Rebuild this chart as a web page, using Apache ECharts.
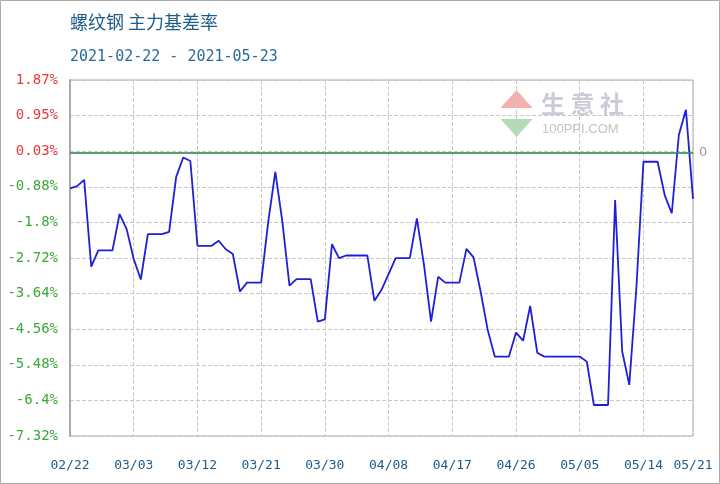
<!DOCTYPE html>
<html>
<head>
<meta charset="utf-8">
<script src="https://cdn.jsdelivr.net/npm/echarts@6/dist/echarts.min.js"></script>
<style>html,body{margin:0;padding:0;background:#fff;}#c{width:720px;height:484px;}</style>
</head>
<body>
<div id="c"></div>
<script>
var titleText = '螺纹钢 主力基差率';
var subTitleText = '2021-02-22 - 2021-05-23';
var dates = ['02/22','02/23','02/24','02/25','02/26','02/27','02/28','03/01','03/02','03/03',
'03/04','03/05','03/06','03/07','03/08','03/09','03/10','03/11','03/12','03/13',
'03/14','03/15','03/16','03/17','03/18','03/19','03/20','03/21','03/22','03/23',
'03/24','03/25','03/26','03/27','03/28','03/29','03/30','03/31','04/01','04/02',
'04/03','04/04','04/05','04/06','04/07','04/08','04/09','04/10','04/11','04/12',
'04/13','04/14','04/15','04/16','04/17','04/18','04/19','04/20','04/21','04/22',
'04/23','04/24','04/25','04/26','04/27','04/28','04/29','04/30','05/01','05/02',
'05/03','05/04','05/05','05/06','05/07','05/08','05/09','05/10','05/11','05/12',
'05/13','05/14','05/15','05/16','05/17','05/18','05/19','05/20','05/21'];
var basisRate = [-0.93,-0.87,-0.71,-2.95,-2.53,-2.53,-2.53,-1.59,-1.98,-2.75,
-3.28,-2.11,-2.11,-2.11,-2.05,-0.63,-0.13,-0.22,-2.41,-2.41,
-2.41,-2.28,-2.50,-2.62,-3.59,-3.36,-3.36,-3.36,-1.79,-0.50,
-1.79,-3.44,-3.27,-3.27,-3.27,-4.37,-4.31,-2.37,-2.73,-2.66,
-2.66,-2.66,-2.66,-3.83,-3.55,-3.14,-2.73,-2.73,-2.73,-1.70,
-2.90,-4.37,-3.21,-3.36,-3.36,-3.36,-2.49,-2.71,-3.59,-4.58,
-5.27,-5.27,-5.27,-4.65,-4.86,-3.96,-5.17,-5.27,-5.27,-5.27,
-5.27,-5.27,-5.27,-5.40,-6.52,-6.52,-6.52,-1.23,-5.14,-6.00,
-3.50,-0.24,-0.24,-0.24,-1.10,-1.57,0.45,1.10,-1.20];
var yTickLabels = ['-7.32%','-6.4%','-5.48%','-4.56%','-3.64%','-2.72%','-1.8%','-0.88%','0.03%','0.95%','1.87%'];
var yMin = -7.32, yMax = 1.87, yStep = 0.919;
var zeroLine = 0;

function showDateLabel(i){ return i % 9 === 0 || i === dates.length - 1; }

var chart = echarts.init(document.getElementById('c'), null, {renderer:'canvas'});
chart.setOption({
  animation: false,
  backgroundColor: '#fff',
  title: [
    {left: 70, top: 13, padding: 0, text: titleText, textStyle:{fontFamily:'Noto Sans CJK SC', fontSize:18, fontWeight:'normal', color:'#1d5b8a'}},
    {left: 70, top: 50, padding: 0, text: subTitleText, textStyle:{fontFamily:'DejaVu Sans Mono', fontSize:15, fontWeight:'normal', color:'#2a6a98'}}
  ],
  grid: {left: 70, right: 27, top: 80, bottom: 48, show: true, borderColor: '#aaa', borderWidth: 1},
  xAxis: {
    type: 'category', data: dates, boundaryGap: false,
    axisLine: {show: true, lineStyle: {color: '#aaa', width: 2}},
    axisTick: {show: false},
    axisLabel: {interval: function(i){return showDateLabel(i);}, margin: 23, color: '#1d5b8a', fontFamily: 'DejaVu Sans Mono', fontSize: 13, showMaxLabel: true},
    splitLine: {show: true, interval: function(i){return showDateLabel(i);}, lineStyle: {color: '#c8c8c8', type: 'dashed', width: 1}}
  },
  yAxis: {
    type: 'value', min: yMin, max: yMax, interval: yStep,
    axisLine: {show: true, lineStyle: {color: '#aaa', width: 2}},
    axisTick: {show: false},
    axisLabel: {
      margin: 12, fontFamily: 'DejaVu Sans Mono', fontSize: 14,
      formatter: function(v){
        var k = Math.round((v - yMin) / yStep);
        var t = yTickLabels[k] || '';
        return (k >= 8 ? '{r|' : '{g|') + t + '}';
      },
      rich: {
        r: {color: '#e8383d', fontFamily: 'DejaVu Sans Mono', fontSize: 14},
        g: {color: '#3aa83a', fontFamily: 'DejaVu Sans Mono', fontSize: 14}
      }
    },
    splitLine: {show: true, lineStyle: {color: '#c8c8c8', type: 'dashed', width: 1}}
  },
  series: [{
    type: 'line', data: basisRate, symbol: 'none',
    lineStyle: {color: '#1f1fd8', width: 1.8},
    markLine: {
      silent: true, symbol: 'none',
      data: [{yAxis: zeroLine}],
      lineStyle: {color: '#3a9a5e', type: 'solid', width: 1.5},
      label: {show: true, position: 'end', formatter: '0', color: '#999', fontFamily: 'DejaVu Sans', fontSize: 13, distance: 6}
    }
  }],
  graphic: [
    {type: 'rect', shape: {x: 0.5, y: 0.5, width: 719, height: 483}, style: {fill: 'none', stroke: '#aaa', lineWidth: 1}, silent: true, z: 100},
    {type: 'polygon', shape: {points: [[516.5, 90], [500.5, 108], [532.5, 108]]}, style: {fill: '#f3b0ae'}, silent: true, z: 0},
    {type: 'polygon', shape: {points: [[500.5, 119], [532.5, 119], [516.5, 137]]}, style: {fill: '#b4dcb4'}, silent: true, z: 0},
    {type: 'text', left: 541, top: 92, style: {text: '生 意 社', fill: '#cacad8', font: 'bold 24px "Noto Sans CJK SC"'}, silent: true, z: 0},
    {type: 'text', left: 542, top: 123, style: {text: '100PPI.COM', fill: '#c4c4c4', font: '13px "Liberation Sans"'}, silent: true, z: 0}
  ]
});
</script>
</body>
</html>
